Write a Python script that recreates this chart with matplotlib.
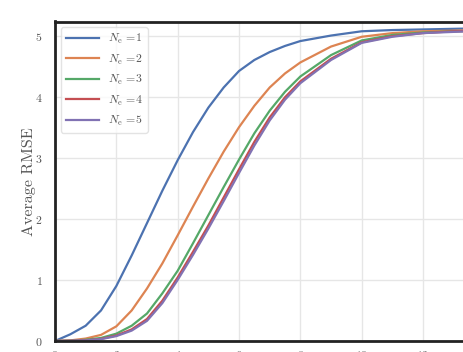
import numpy as np
import matplotlib
matplotlib.use("Agg")
import matplotlib.pyplot as plt

# --- Data ---
x = [0, 0.5, 1, 1.5, 2, 2.5, 3, 3.5, 4, 4.5, 5, 5.5, 6, 6.5, 7, 7.5, 8, 9, 10, 11, 12, 13, 14]
rmse_ne1 = [0, 0.11, 0.25, 0.50, 0.90, 1.40, 1.93, 2.46, 2.96, 3.42, 3.82, 4.15, 4.42, 4.60,
            4.73, 4.83, 4.91, 5.00, 5.07, 5.09, 5.10, 5.11, 5.12]
rmse_ne2 = [0, 0.01, 0.04, 0.10, 0.24, 0.50, 0.86, 1.27, 1.73, 2.20, 2.66, 3.10, 3.50, 3.85,
            4.15, 4.38, 4.56, 4.82, 4.98, 5.04, 5.07, 5.08, 5.09]
rmse_ne3 = [0, 0.005, 0.02, 0.05, 0.12, 0.25, 0.45, 0.78, 1.15, 1.60, 2.06, 2.52, 2.97, 3.40,
            3.77, 4.08, 4.33, 4.68, 4.92, 5.01, 5.05, 5.07, 5.08]
rmse_ne4 = [0, 0.004, 0.012, 0.035, 0.09, 0.19, 0.36, 0.66, 1.04, 1.46, 1.89, 2.35, 2.81, 3.26,
            3.66, 3.99, 4.25, 4.62, 4.89, 4.99, 5.04, 5.07, 5.08]
rmse_ne5 = [0, 0.003, 0.01, 0.03, 0.08, 0.17, 0.33, 0.62, 1.00, 1.41, 1.84, 2.29, 2.75, 3.20,
            3.61, 3.95, 4.22, 4.60, 4.88, 4.98, 5.04, 5.06, 5.08]
labels = ["1", "2", "3", "4", "5"]
colors = ["#4C72B0", "#DD8452", "#55A868", "#C44E52", "#8172B3"]

plt.rcParams["font.family"] = "serif"
plt.rcParams["font.serif"] = ["cmr10", "DejaVu Serif"]
plt.rcParams["mathtext.fontset"] = "cm"
plt.rcParams["axes.formatter.use_mathtext"] = True

fig = plt.figure(figsize=(4.64, 3.52), dpi=100)
ax = fig.add_axes([55 / 464, 11 / 352, 14 * 30.67 / 464, 319.5 / 352])

series = [rmse_ne1, rmse_ne2, rmse_ne3, rmse_ne4, rmse_ne5]
for ys, lab, c in zip(series, labels, colors):
    ax.plot(x, ys, color=c, lw=1.6, label=r"$N_\mathrm{e}$ =" + lab)

ax.set_xlim(0, 14)
ax.set_ylim(0, 5.23)
ax.set_xticks(np.arange(0, 15, 2))
ax.set_yticks(np.arange(0, 6, 1))
ax.grid(True, color="#e6e6e6", lw=1)
ax.set_axisbelow(True)
ax.tick_params(length=0, labelsize=8.5, labelcolor="#555555", pad=9)
ax.tick_params(axis="x", pad=6)
for side in ["left", "top", "bottom"]:
    ax.spines[side].set_color("#222222")
    ax.spines[side].set_linewidth(2)
ax.spines["right"].set_visible(False)

ax.set_ylabel("Average RMSE", fontsize=11.5, color="#555555", labelpad=-1)

leg = ax.legend(loc="upper left", fontsize=8.5, frameon=True, handlelength=2.8,
                borderaxespad=0.5, labelspacing=0.55)
leg.get_frame().set_edgecolor("#dddddd")
for t in leg.get_texts():
    t.set_color("#555555")

fig.savefig("out.png", dpi=100)
